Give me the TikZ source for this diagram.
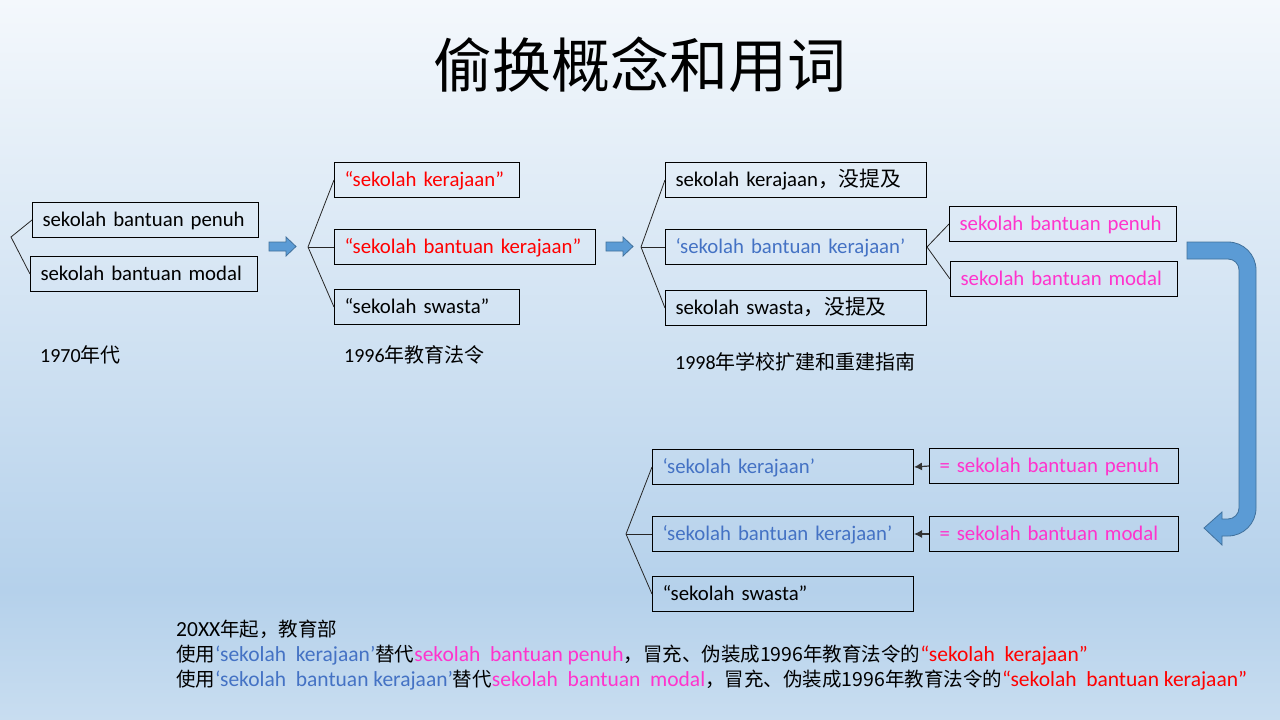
\documentclass[tikz,border=0pt]{standalone}
\usepackage{fontspec}
\setmainfont{Carlito}
\newfontfamily\cjk{Noto Sans CJK SC}
\newcommand\zh[1]{{\cjk\fontsize{19.5}{24}\selectfont #1}}
\usetikzlibrary{arrows.meta}
\definecolor{cred}{HTML}{FF0000}
\definecolor{cblue}{HTML}{4472C4}
\definecolor{cmag}{HTML}{FF33CC}
\definecolor{afill}{HTML}{5B9BD5}
\definecolor{aline}{HTML}{41719C}
\definecolor{bgtop}{HTML}{F4F8FC}
\definecolor{bgmid}{HTML}{B5D1EB}
\definecolor{bgbot}{HTML}{C8DDF0}
\begin{document}
\begin{tikzpicture}[x=1pt,y=-1pt,
  box/.style={draw=black, line width=1pt, minimum height=35pt, inner xsep=10pt, inner ysep=0pt,
    text height=16pt, text depth=3pt,
    anchor=north west, align=left, font=\fontsize{20.8}{25}\selectfont},
  br/.style={draw=black!85, line width=0.8pt},
  lbl/.style={anchor=west, inner sep=0pt, font=\fontsize{20}{24}\selectfont},
  note/.style={anchor=base west, inner sep=0pt, font=\fontsize{21.5}{24}\selectfont},
  blk/.style={fill=afill, draw=aline, line width=0.8pt},
  ptr/.style={draw=black!80, line width=1.2pt, -{Latex[length=8pt,width=8pt]}}
]
\useasboundingbox (0,0) rectangle (1280,720);
\shade[top color=bgtop, bottom color=bgmid] (0,0) rectangle (1280,590);
\shade[top color=bgmid, bottom color=bgbot] (0,590) rectangle (1280,720);

% title
\node[font=\cjk\fontsize{59}{64}\selectfont] (title) at (640,65) {偷换概念和用词};

% group 1970
\node[box, text width=206pt] (a1) at (32,202) {sekolah bantuan penuh};
\node[box, text width=207pt] (a2) at (30,256) {sekolah bantuan modal};
\coordinate (pa) at (11,237);
\draw[br] (a1.west) -- (pa) -- (a2.west);
\node[lbl] (la) at (40,355) {1970{\cjk 年代}};

% block arrow 1
\draw[blk] (269,242) -- (286,242) -- (286,237) -- (296,246.5) -- (286,256) -- (286,251) -- (269,251) -- cycle;

% group 1996
\node[box, text width=165pt, text=cred] (b1) at (334,162) {“sekolah kerajaan”};
\node[box, text width=241pt, text=cred] (b2) at (334,229) {“sekolah bantuan kerajaan”};
\node[box, text width=165pt] (b3) at (334,289) {“sekolah swasta”};
\coordinate (pb) at (308,247);
\draw[br] (b1.west) -- (pb) -- (b3.west);
\draw[br] (pb) -- (b2.west);
\node[lbl] (lb) at (344,355) {1996{\cjk 年教育法令}};

% block arrow 2
\draw[blk] (606,242) -- (623,242) -- (623,237) -- (633,246.5) -- (623,256) -- (623,251) -- (606,251) -- cycle;

% group 1998
\node[box, text width=241pt] (c1) at (665,162) {sekolah kerajaan{\cjk ，没提及}};
\node[box, text width=241pt, text=cblue] (c2) at (665,229) {‘sekolah bantuan kerajaan’};
\node[box, text width=241pt] (c3) at (665,290) {sekolah swasta{\cjk ，没提及}};
\coordinate (pc) at (641,247);
\draw[br] (c1.west) -- (pc) -- (c3.west);
\draw[br] (pc) -- (c2.west);
\node[box, text width=207pt, text=cmag] (d1) at (949,206) {sekolah bantuan penuh};
\node[box, text width=207pt, text=cmag] (d2) at (950,261) {sekolah bantuan modal};
\draw[br] (d1.west) -- (c2.east) -- (d2.west);
\node[lbl] (lc) at (675,362) {1998{\cjk 年学校扩建和重建指南}};

% curved block arrow
\draw[blk] (1187,242) -- (1228,242)
  .. controls (1243.5,242) and (1256,254.5) .. (1256,270)
  -- (1256,508)
  .. controls (1256,523.5) and (1243.5,536) .. (1228,536)
  -- (1222,536) -- (1222,545) -- (1204,528) -- (1222,512) -- (1222,519) -- (1228,519)
  .. controls (1234.1,519) and (1239,513.9) .. (1239,508)
  -- (1239,270)
  .. controls (1239,263.9) and (1234.1,259) .. (1228,259)
  -- (1187,259) -- cycle;

% group 20XX
\node[box, text width=241pt, text=cblue] (e1) at (652,449) {‘sekolah kerajaan’};
\node[box, text width=241pt, text=cblue] (e2) at (652,516) {‘sekolah bantuan kerajaan’};
\node[box, text width=241pt] (e3) at (652,576) {“sekolah swasta”};
\coordinate (pe) at (626,534);
\draw[br] (e1.west) -- (pe) -- (e3.west);
\draw[br] (pe) -- (e2.west);
\node[box, text width=229pt, text=cmag] (f1) at (929,448) {= sekolah bantuan penuh};
\node[box, text width=229pt, text=cmag] (f2) at (929,516) {= sekolah bantuan modal};
\draw[ptr] (f1.west) -- (e1.east);
\draw[ptr] (f2.west) -- (e2.east);

% bottom notes
\node[note] (n1) at (176,636) {20XX\zh{年起，教育部}};
\node[note] (n2) at (176,661) {\zh{使用}\textcolor{cblue}{‘sekolah\ \ kerajaan’}\zh{替代}\textcolor{cmag}{sekolah\ \ bantuan penuh}\zh{，冒充、伪装成1996年教育法令的}\textcolor{cred}{“sekolah\ \ kerajaan”}};
\node[note] (n3) at (176,686) {\zh{使用}\textcolor{cblue}{‘sekolah\ \ bantuan\ kerajaan’}\zh{替代}\textcolor{cmag}{sekolah\ \ bantuan\ \ modal}\zh{，冒充、伪装成1996年教育法令的}\textcolor{cred}{“sekolah\ \ bantuan kerajaan”}};
\end{tikzpicture}
\end{document}
